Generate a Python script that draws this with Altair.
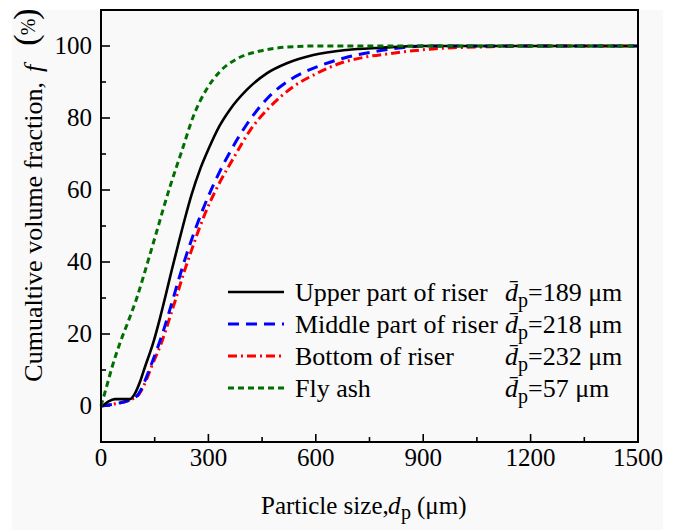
import altair as alt
import pandas as pd

# ---------------- data ----------------
upper_d = [0, 6, 20, 39, 81, 95, 110, 123, 146, 165, 180, 197, 216, 235, 253, 277, 300, 330, 360, 407, 463, 519, 593, 686, 779, 900, 1500]
upper_f = [0, 0.2, 1.2, 1.9, 1.9, 3.5, 7.0, 10.9, 17.6, 24.5, 30.5, 37.5, 45.0, 52.3, 58.7, 65.8, 71.3, 77.6, 82.3, 87.8, 92.4, 95.2, 97.5, 98.9, 99.5, 100, 100]

middle_d = [0, 39, 81, 104, 122, 138, 150, 172, 199, 216, 244, 272, 300, 332, 360, 407, 463, 528, 603, 677, 761, 845, 920, 1500]
middle_f = [0, 0.6, 1.7, 3.2, 6.8, 10.9, 14.0, 20.2, 29.0, 34.8, 43.6, 51.4, 58.3, 65.2, 70.5, 78.2, 85.3, 90.6, 94.2, 96.6, 98.4, 99.6, 100, 100]

bottom_d = [0, 39, 81, 104, 124, 141, 169, 193, 211, 230, 253, 277, 304, 330, 351, 372, 416, 472, 537, 603, 668, 742, 807, 928, 1087, 1200, 1500]
bottom_f = [0, 0.6, 1.7, 3.0, 6.6, 10.9, 17.6, 24.8, 30.4, 36.6, 43.3, 50.0, 56.5, 61.8, 65.6, 69.2, 76.5, 83.1, 88.7, 92.4, 95.2, 97.0, 97.9, 99.2, 99.8, 100, 100]

flyash_d = [0, 16, 30, 53, 76, 100, 118, 137, 156, 174, 193, 211, 225, 258, 295, 332, 379, 444, 519, 600, 1500]
flyash_f = [0, 5.5, 10.5, 17.5, 23.5, 30.0, 35.8, 42.2, 48.6, 54.8, 61.0, 66.5, 70.6, 80.5, 88.0, 92.9, 96.4, 98.6, 99.7, 100, 100]

series_names = ["Upper part of riser", "Middle part of riser", "Bottom of riser", "Fly ash"]
mean_sizes = [189, 218, 232, 57]
series_colors = ["#000000", "#0000FF", "#FF0000", "#006F00"]
series_dashes = [[1, 0], [11, 7], [9, 4, 2, 4], [6, 4]]
series_widths = [2.6, 3, 3, 3]

x_major = [0, 300, 600, 900, 1200, 1500]
x_minor = [150, 450, 750, 1050, 1350]
y_major = [0, 20, 40, 60, 80, 100]
y_minor = [10, 30, 50, 70, 90]

x_title_main = "Particle size,"
x_title_unit = "(μm)"
y_title_main = "Cumualtive volume fraction,"
unit_um = "μm"

FONT = "Liberation Serif"
W, H = 537, 432

x_scale = alt.Scale(domain=[0, 1500], nice=False, zero=False)
y_scale = alt.Scale(domain=[-10, 110], nice=False, zero=False)

one = pd.DataFrame({"k": [0]})


def txt(text, x, y, size=25, style="normal", align="left", baseline="alphabetic", angle=0):
    kw = dict(text=text, font=FONT, fontSize=size, fontStyle=style, align=align,
              baseline=baseline, color="black")
    if angle:
        kw["angle"] = angle
    return alt.Chart(one).mark_text(**kw).encode(x=alt.value(x), y=alt.value(y))


layers = []

# light grey figure panel
layers.append(alt.Chart(one).mark_rect(color="#f9f9f9").encode(
    x=alt.value(-89), x2=alt.value(562), y=alt.value(0), y2=alt.value(520)))

# x ticks (inward) + tick labels
xt_major = pd.DataFrame({"v": x_major, "lab": [str(v) for v in x_major]})
xt_minor = pd.DataFrame({"v": x_minor})
layers.append(alt.Chart(xt_major).mark_rule(color="black", strokeWidth=1.6).encode(
    x=alt.X("v:Q", scale=x_scale, axis=None), y=alt.value(H), y2=alt.value(H - 8)))
layers.append(alt.Chart(xt_minor).mark_rule(color="black", strokeWidth=1.6).encode(
    x=alt.X("v:Q", scale=x_scale, axis=None), y=alt.value(H), y2=alt.value(H - 5)))
layers.append(alt.Chart(xt_major).mark_text(
    font=FONT, fontSize=25, color="black", align="center", baseline="middle").encode(
    x=alt.X("v:Q", scale=x_scale, axis=None), y=alt.value(H + 16), text="lab:N"))

# y ticks (inward) + tick labels
yt_major = pd.DataFrame({"v": y_major, "lab": [str(v) for v in y_major]})
yt_minor = pd.DataFrame({"v": y_minor})
layers.append(alt.Chart(yt_major).mark_rule(color="black", strokeWidth=1.6).encode(
    y=alt.Y("v:Q", scale=y_scale, axis=None), x=alt.value(0), x2=alt.value(9)))
layers.append(alt.Chart(yt_minor).mark_rule(color="black", strokeWidth=1.6).encode(
    y=alt.Y("v:Q", scale=y_scale, axis=None), x=alt.value(0), x2=alt.value(5)))
layers.append(alt.Chart(yt_major).mark_text(
    font=FONT, fontSize=25, color="black", align="right", baseline="middle").encode(
    y=alt.Y("v:Q", scale=y_scale, axis=None), x=alt.value(-9), text="lab:N"))

# curves
all_d = [upper_d, middle_d, bottom_d, flyash_d]
all_f = [upper_f, middle_f, bottom_f, flyash_f]
for i in [2, 1, 0, 3]:
    df = pd.DataFrame({"d": all_d[i], "f": all_f[i]})
    kw = dict(color=series_colors[i], strokeWidth=series_widths[i], interpolate="monotone")
    if i != 0:
        kw["strokeDash"] = series_dashes[i]
    layers.append(alt.Chart(df).mark_line(**kw).encode(
        x=alt.X("d:Q", scale=x_scale, axis=None),
        y=alt.Y("f:Q", scale=y_scale, axis=None)))

# frame
layers.append(alt.Chart(one).mark_rect(fillOpacity=0, stroke="black", strokeWidth=2).encode(
    x=alt.value(0), x2=alt.value(W), y=alt.value(0), y2=alt.value(H)))

# legend
line_y = [282, 314, 346, 378]
text_y = [291, 323, 355, 387]
for i in range(4):
    kw = dict(color=series_colors[i], strokeWidth=series_widths[i])
    if i != 0:
        kw["strokeDash"] = series_dashes[i]
    layers.append(alt.Chart(one).mark_rule(**kw).encode(
        x=alt.value(127), x2=alt.value(183), y=alt.value(line_y[i])))
    layers.append(txt(series_names[i], 194, text_y[i], size=26))
    layers.append(txt("d\u0304", 404, text_y[i], size=26, style="italic"))
    layers.append(txt("p", 417, text_y[i] + 6, size=20))
    layers.append(txt(f"={mean_sizes[i]} {unit_um}", 427, text_y[i], size=26))

# x-axis title
layers.append(txt(x_title_main, 160, 504, size=25))
layers.append(txt("d", 287, 504, size=25, style="italic"))
layers.append(txt("p", 300, 509, size=20))
layers.append(txt(x_title_unit, 316, 504, size=25))

# y-axis title
layers.append(txt(y_title_main, -59, 72, size=26, align="right", angle=270))
layers.append(txt("f", -59, 62, size=26, style="italic", align="left", angle=270))
layers.append(txt("(", -74, 30, size=34, align="center", baseline="middle", angle=270))
layers.append(txt("%", -72, 17, size=20, align="center", baseline="middle", angle=270))
layers.append(txt(")", -74, 4, size=34, align="center", baseline="middle", angle=270))

chart = alt.layer(*layers).properties(
    width=W, height=H,
    padding={"left": 101, "top": 10, "right": 43, "bottom": 88},
    autosize=alt.AutoSizeParams(type="none"),
    background="white",
).configure_view(strokeWidth=0)

chart.save("out.html", embed_options={"renderer": "svg", "actions": False})
